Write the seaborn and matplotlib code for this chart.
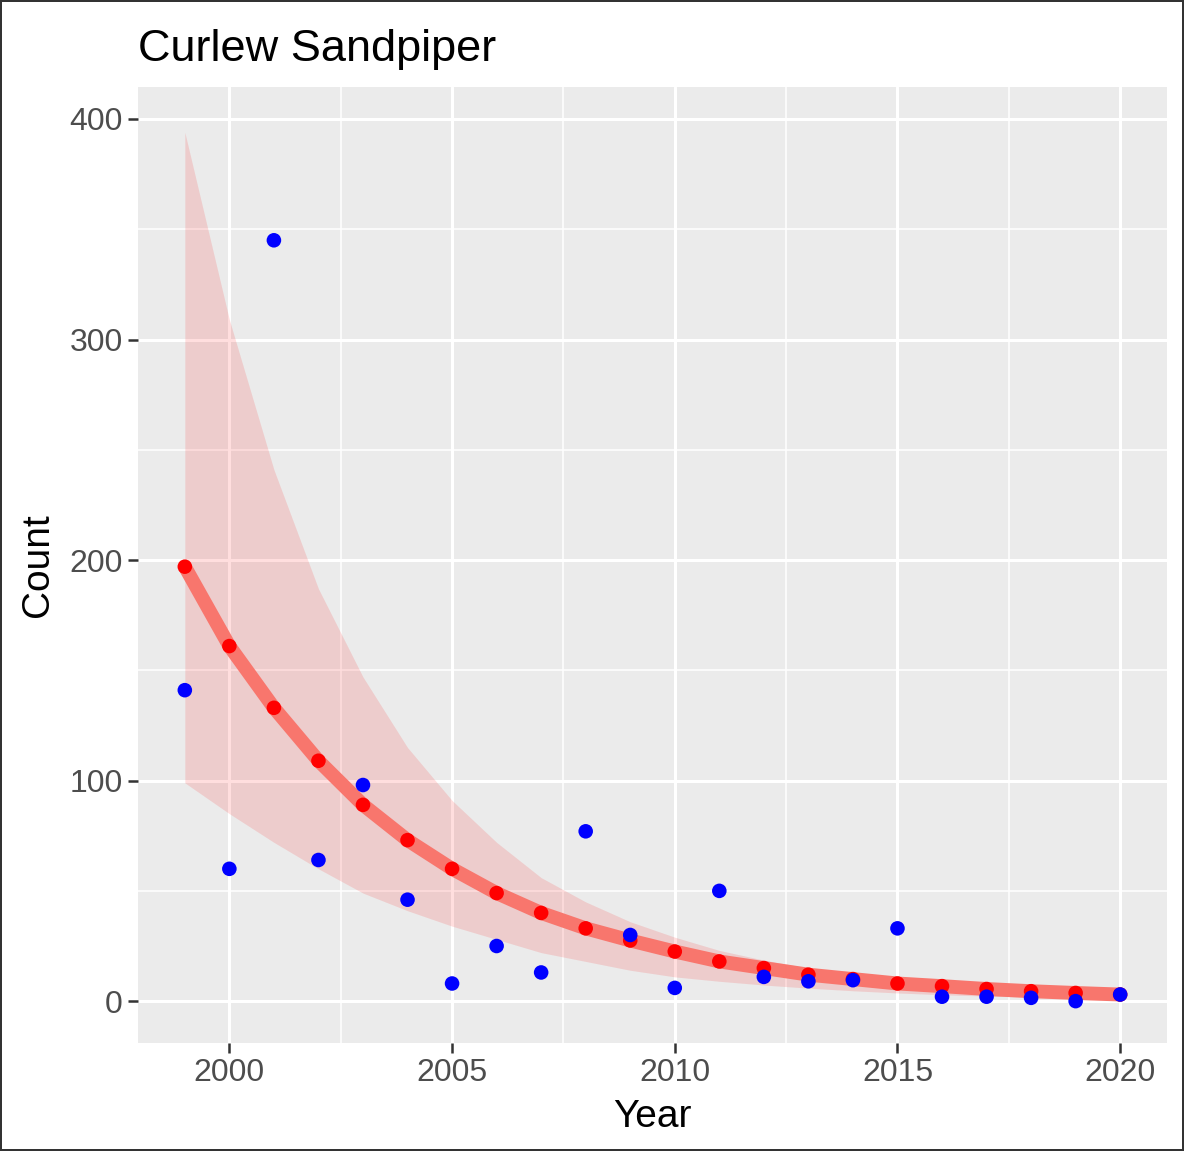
import numpy as np
import pandas as pd
import seaborn as sns
import matplotlib.pyplot as plt

years = list(range(1999, 2021))

# observed counts (blue points)
observed = [141, 60, 345, 64, 98, 46, 8, 25, 13, 77, 30, 6, 50, 11, 9, 9.5, 33, 2, 2, 1.5, 0, 3]

# fitted curve (red points / line)
fitted = [197, 161, 133, 109, 89, 73, 60, 49, 40, 33, 27.5, 22.5, 18, 15, 12, 10, 8, 6.8, 5.5, 4.5, 3.7, 3]

# confidence band
upper = [394, 309, 241, 187, 147, 115, 91, 72, 56, 45, 36, 29, 23, 18.6, 15, 12, 10, 8, 6.8, 5.5, 4.5, 3.6]
lower = [99, 85, 72, 60, 49, 41, 34, 28, 22, 18, 14, 11, 9, 7.3, 5.9, 4.7, 3.7, 2.9, 2.3, 1.8, 1.4, 1.1]

df = pd.DataFrame({"Year": years, "Count": observed, "Fit": fitted,
                   "Upper": upper, "Lower": lower})

sns.set_theme(style="darkgrid", rc={"axes.facecolor": "#EBEBEB",
                                    "grid.color": "white"})
plt.rcParams['font.family'] = ['Liberation Sans', 'DejaVu Sans']

fig = plt.figure(figsize=(11.84, 11.51), dpi=100)
fig.patch.set_edgecolor("#333333")
fig.patch.set_linewidth(1.5)
ax = fig.add_axes([0.1166, 0.0938, 0.869, 0.8306])

ax.fill_between(df["Year"], df["Lower"], df["Upper"], color="red", alpha=0.13,
                linewidth=0, zorder=2)
sns.lineplot(data=df, x="Year", y="Fit", ax=ax, color="#F8766D", linewidth=10,
             zorder=3, solid_capstyle="butt")
sns.scatterplot(data=df, x="Year", y="Fit", ax=ax, color="red", s=110,
                edgecolor="none", zorder=4)
sns.scatterplot(data=df, x="Year", y="Count", ax=ax, color="blue", s=110,
                edgecolor="none", zorder=5)

ax.set_xlim(1997.95, 2021.05)
ax.set_ylim(-19, 414.5)
ax.set_xticks([2000, 2005, 2010, 2015, 2020])
ax.set_yticks([0, 100, 200, 300, 400])
ax.set_xticks([2002.5, 2007.5, 2012.5, 2017.5], minor=True)
ax.set_yticks([50, 150, 250, 350], minor=True)
ax.grid(which="major", color="white", linewidth=2.2)
ax.grid(which="minor", color="white", linewidth=1.1)
ax.set_axisbelow(True)
for s in ax.spines.values():
    s.set_visible(False)

ax.tick_params(axis="both", which="major", bottom=True, left=True,
               labelsize=23, colors="#333333", labelcolor="#4D4D4D",
               length=7, width=1.8, pad=4)
ax.tick_params(axis="both", which="minor", length=0)

ax.set_xlabel("Year", fontsize=28, color="black", labelpad=8)
ax.set_ylabel("Count", fontsize=28, color="black", labelpad=10)
ax.set_title("Curlew Sandpiper", fontsize=32.5, loc="left", pad=19,
             color="black")

fig.savefig("out.png", dpi=100)
